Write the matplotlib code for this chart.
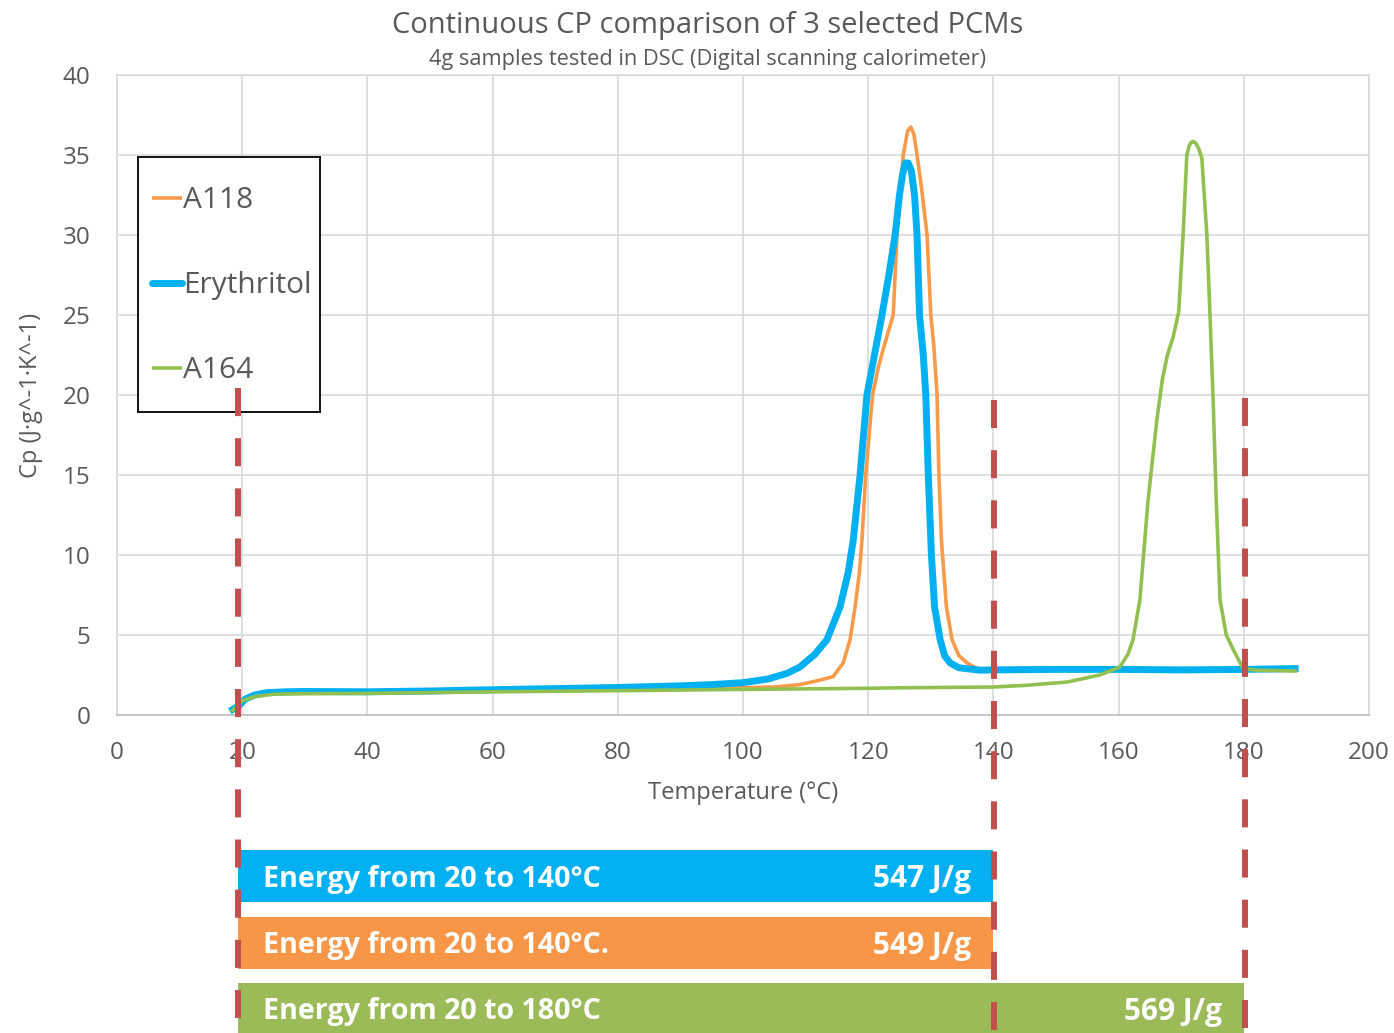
import numpy as np
import matplotlib.pyplot as plt

plt.rcParams['font.family'] = ['Open Sans', 'DejaVu Sans']

# =========================
# Data
# =========================
a118_T = [18.5, 20.0, 22.0, 25.0, 30.0, 40.0, 60.0, 80.0, 100.0, 105.0, 109.1, 112.0,
          114.4, 116.0, 117.1, 117.9, 118.6, 119.0, 119.6, 120.7, 121.6, 122.5, 124.0,
          124.6, 125.6, 126.3, 126.8, 127.3, 127.8, 128.5, 129.4, 130.0, 130.5, 131.0,
          131.3, 131.7, 132.5, 133.4, 134.5, 135.8, 137.4, 140.0]
a118_cp = [0.3, 0.9, 1.2, 1.35, 1.4, 1.42, 1.5, 1.6, 1.7, 1.75, 1.9, 2.15,
           2.4, 3.25, 4.7, 6.75, 8.9, 10.9, 15.0, 20.0, 21.7, 23.0, 25.0,
           30.0, 35.0, 36.5, 36.75, 36.3, 35.0, 33.0, 30.0, 25.0, 23.0, 20.0,
           15.0, 10.9, 6.75, 4.7, 3.7, 3.25, 2.9, 2.82]

ery_T = [18.5, 19.5, 20.5, 22.0, 24.0, 27.0, 30.0, 40.0, 50.0, 60.0, 70.0, 80.0,
         90.0, 95.0, 100.0, 104.0, 107.0, 109.1, 111.5, 113.4, 115.5, 116.8, 117.6,
         118.7, 119.8, 121.0, 122.2, 123.3, 124.3, 125.0, 125.5, 125.9, 126.4, 126.9,
         127.4, 127.8, 128.2, 128.8, 129.2, 129.6, 130.1, 130.6, 131.5, 132.2, 133.1,
         134.5, 137.9, 140.0, 150.0, 160.0, 170.0, 180.0, 188.2]
ery_cp = [0.35, 0.6, 1.0, 1.25, 1.4, 1.45, 1.47, 1.45, 1.5, 1.58, 1.65, 1.72,
          1.82, 1.9, 2.02, 2.25, 2.6, 3.0, 3.8, 4.7, 6.75, 8.9, 10.9,
          15.0, 20.0, 22.5, 25.0, 27.5, 30.0, 32.5, 33.8, 34.5, 34.5, 34.0,
          32.5, 30.0, 25.0, 22.5, 20.0, 15.0, 10.0, 6.75, 4.7, 3.7, 3.25,
          2.95, 2.8, 2.82, 2.85, 2.85, 2.82, 2.85, 2.9]

a164_T = [18.5, 20.0, 22.0, 25.0, 30.0, 40.0, 60.0, 80.0, 100.0, 120.0, 125.0, 140.0,
          145.0, 151.8, 157.0, 160.2, 161.5, 162.3, 163.4, 164.7, 166.1, 167.0, 167.8,
          168.7, 169.6, 170.3, 170.9, 171.3, 171.6, 171.9, 172.3, 172.8, 173.3, 174.1,
          174.6, 175.1, 175.6, 176.2, 177.2, 178.3, 179.9, 182.0, 188.2]
a164_cp = [0.3, 0.9, 1.15, 1.3, 1.33, 1.35, 1.45, 1.52, 1.6, 1.67, 1.7, 1.75,
           1.85, 2.06, 2.5, 3.0, 3.8, 4.7, 7.2, 13.4, 18.4, 21.0, 22.5,
           23.6, 25.2, 30.0, 35.0, 35.6, 35.8, 35.85, 35.75, 35.4, 34.8, 30.0,
           25.0, 19.7, 13.4, 7.2, 5.0, 4.1, 2.9, 2.8, 2.75]

series_names = ['A118', 'Erythritol', 'A164']
series_colors = ['#F79A4A', '#00B0F0', '#92C050']
series_lw = [2.6, 5.0, 2.6]

# energy bands under the chart
energy_labels = ["Energy from 20 to 140°C", "Energy from 20 to 140°C.", "Energy from 20 to 180°C"]
energy_start = [20, 20, 20]
energy_end = [140, 140, 180]
energy_value = [547, 549, 569]
energy_colors = ['#00B0F0', '#F79646', '#9BBB59']

limit_T = [20, 140, 180]

# =========================
# Figure
# =========================
W, H = 1394, 1033
fig = plt.figure(figsize=(W / 100, H / 100), dpi=100)

ax_l, ax_r, ax_t, ax_b = 117, 1369, 75, 715
ax = fig.add_axes([ax_l / W, 1 - ax_b / H, (ax_r - ax_l) / W, (ax_b - ax_t) / H])

data = [(a118_T, a118_cp), (ery_T, ery_cp), (a164_T, a164_cp)]
for (T, cp), name, col, lw, z in zip(data, series_names, series_colors, series_lw, [3, 4, 5]):
    ax.plot(T, cp, color=col, lw=lw, label=name, zorder=z, solid_joinstyle='round')

ax.set_xlim(0, 200)
ax.set_ylim(0, 40)
ax.set_xticks(np.arange(0, 201, 20))
ax.set_yticks(np.arange(0, 41, 5))
ax.grid(True, color='#D9D9D9', lw=1.2)
ax.set_axisbelow(True)
for s in ax.spines.values():
    s.set_color('#D9D9D9')
    s.set_linewidth(1.2)
ax.spines['bottom'].set_color('#BFBFBF')
ax.tick_params(length=0, labelsize=17.5, labelcolor='#595959')
ax.tick_params(axis='x', pad=19)
ax.tick_params(axis='y', pad=19)

ax.set_xlabel("Temperature (°C)", fontsize=17, color='#595959', labelpad=11)
ax.set_ylabel("Cp (J·g^-1·K^-1)", fontsize=17, color='#595959', labelpad=14)

fig.text(708 / W, 1 - 25 / H, "Continuous CP comparison of 3 selected PCMs",
         ha='center', va='center', fontsize=21, color='#595959')
fig.text(708 / W, 1 - 59 / H, "4g samples tested in DSC (Digital scanning calorimeter)",
         ha='center', va='center', fontsize=15.7, color='#595959')

# =========================
# Legend box (pixel layout)
# =========================
lg_l, lg_t, lg_r, lg_b = 138, 157, 320, 412
lg = fig.add_axes([lg_l / W, 1 - lg_b / H, (lg_r - lg_l) / W, (lg_b - lg_t) / H], zorder=6)
lg.set_xlim(0, lg_r - lg_l)
lg.set_ylim(lg_b - lg_t, 0)
lg.set_xticks([])
lg.set_yticks([])
for s in lg.spines.values():
    s.set_color('black')
    s.set_linewidth(1.3)
for i, (name, col, lw) in enumerate(zip(series_names, series_colors, series_lw)):
    yy = 41 + i * 85
    lg.plot([14, 44], [yy, yy], color=col, lw=lw, solid_capstyle='round' if lw > 3 else 'butt')
    lg.text(45, yy + 2, name, ha='left', va='center', fontsize=21.5, color='#595959')

# =========================
# Overlay: limit lines + energy bands (y in pixels from top)
# =========================
ov = fig.add_axes([ax_l / W, 0, (ax_r - ax_l) / W, 1], zorder=10)
ov.set_xlim(0, 200)
ov.set_ylim(H, 0)
ov.axis('off')
ov.patch.set_alpha(0)

shift = [-0.7, 0.1, 0.2]
line_top = [388, 400, 398]
for T, dx, top in zip(limit_T, shift, line_top):
    ov.plot([T + dx, T + dx], [top, H], color='#C0504D', lw=4.3,
            dashes=(4.7, 3.7), solid_capstyle='butt')

bar_top = [850, 917, 983]
bar_h = 52
for lab, st, en, val, col, top in zip(energy_labels, energy_start, energy_end,
                                      energy_value, energy_colors, bar_top):
    left = st - 0.7
    yc = top + bar_h / 2 + 3
    ov.barh(top + bar_h / 2, en - left, left=left, height=bar_h, color=col, zorder=1)
    ov.text(left + 4.0, yc, lab, ha='left', va='center', color='white',
            fontsize=20.6, fontweight='bold', zorder=2)
    ov.text(en - 3.5, yc, f"{val} J/g", ha='right', va='center',
            color='white', fontsize=21.5, fontweight='bold', zorder=2)

fig.savefig('out.png', dpi=100)
